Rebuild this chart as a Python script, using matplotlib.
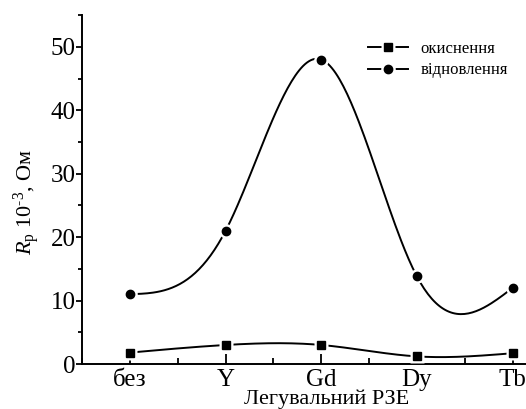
import numpy as np
import matplotlib
matplotlib.use('Agg')
from matplotlib import pyplot as plt
from matplotlib.ticker import MultipleLocator
from matplotlib.lines import Line2D
from matplotlib.legend_handler import HandlerTuple

plt.rcParams['font.family'] = ['Liberation Serif', 'DejaVu Serif']
plt.rcParams['mathtext.fontset'] = 'custom'
plt.rcParams['mathtext.rm'] = 'Liberation Serif'
plt.rcParams['mathtext.it'] = 'Liberation Serif:italic'

categories = ['без', 'Y', 'Gd', 'Dy', 'Tb']
oxid = [1.8, 3.0, 3.0, 1.2, 1.7]
reduc = [11.0, 21.0, 48.0, 13.8, 12.0]
labels = ['окиснення', 'відновлення']


def spline(x, y, n=200):
	# natural cubic spline, like Origin's "Spline" connect
	x = np.asarray(x, float)
	y = np.asarray(y, float)
	k = len(x)
	h = np.diff(x)
	A = np.zeros((k, k))
	b = np.zeros(k)
	A[0, 0] = A[-1, -1] = 1
	for i in range(1, k - 1):
		A[i, i - 1] = h[i - 1]
		A[i, i] = 2 * (h[i - 1] + h[i])
		A[i, i + 1] = h[i]
		b[i] = 6 * ((y[i + 1] - y[i]) / h[i] - (y[i] - y[i - 1]) / h[i - 1])
	M = np.linalg.solve(A, b)
	xs = np.linspace(x[0], x[-1], n)
	idx = np.clip(np.searchsorted(x, xs) - 1, 0, k - 2)
	x0, x1 = x[idx], x[idx + 1]
	hh = x1 - x0
	ys = (M[idx] * (x1 - xs) ** 3 + M[idx + 1] * (xs - x0) ** 3) / (6 * hh) \
		+ (y[idx] / hh - M[idx] * hh / 6) * (x1 - xs) \
		+ (y[idx + 1] / hh - M[idx + 1] * hh / 6) * (xs - x0)
	return xs, ys


fig = plt.figure(figsize=(5.26, 4.09), dpi=100)
ax = fig.add_axes([0.156, 0.110, 0.844, 0.853])

xpos = np.arange(len(categories))
lw = 1.4
handles = []
for vals, mk, ms in [(oxid, 's', 5.5), (reduc, 'o', 6)]:
	xs, ys = spline(xpos, vals)
	ax.plot(xs, ys, color='black', lw=lw, zorder=2)
	# white halo gives the gap between line and marker
	ax.plot(xpos, vals, ls='none', marker=mk, ms=ms + 4.5, mfc='white', mec='none', zorder=3)
	ax.plot(xpos, vals, ls='none', marker=mk, ms=ms, mfc='black', mec='black', zorder=4)
	h = (Line2D([], [], color='black', lw=lw),
		 Line2D([], [], ls='none', marker=mk, ms=ms + 4.5, mfc='white', mec='none'),
		 Line2D([], [], ls='none', marker=mk, ms=ms, mfc='black', mec='black'))
	handles.append(h)

ax.set_xlim(-0.5, 4.14)
ax.set_ylim(0, 55)
ax.set_xticks(xpos)
ax.set_xticklabels(categories)
ax.xaxis.set_minor_locator(MultipleLocator(0.5))
ax.yaxis.set_major_locator(MultipleLocator(10))
ax.yaxis.set_minor_locator(MultipleLocator(5))

ax.spines['top'].set_visible(False)
ax.spines['right'].set_visible(False)
for s in ['left', 'bottom']:
	ax.spines[s].set_linewidth(1.4)
ax.tick_params(axis='y', which='both', direction='out', labelsize=18, width=1.3, pad=0.5)
ax.tick_params(axis='y', which='major', length=4)
ax.tick_params(axis='y', which='minor', length=3)
ax.tick_params(axis='x', which='both', direction='in', labelsize=18, width=1.3, pad=3.5)
ax.tick_params(axis='x', which='major', length=7)
ax.tick_params(axis='x', which='minor', length=4)

ax.set_xlabel('Легувальний РЗЕ', fontsize=16, labelpad=-1)
ax.xaxis.set_label_coords(0.552, -0.073)
ax.set_ylabel(r'$\mathit{R}_{\rm p}$ 10$^{\text{-3}}$, Ом', fontsize=16)
ax.yaxis.set_label_coords(-0.09, 0.465)

ax.legend(handles, labels, handler_map={tuple: HandlerTuple(ndivide=1, pad=0)},
		  loc='upper right', bbox_to_anchor=(0.994, 0.97), frameon=False,
		  fontsize=12, handlelength=2.35, handletextpad=0.8, labelspacing=0.35)

fig.savefig('out.png', dpi=100)
